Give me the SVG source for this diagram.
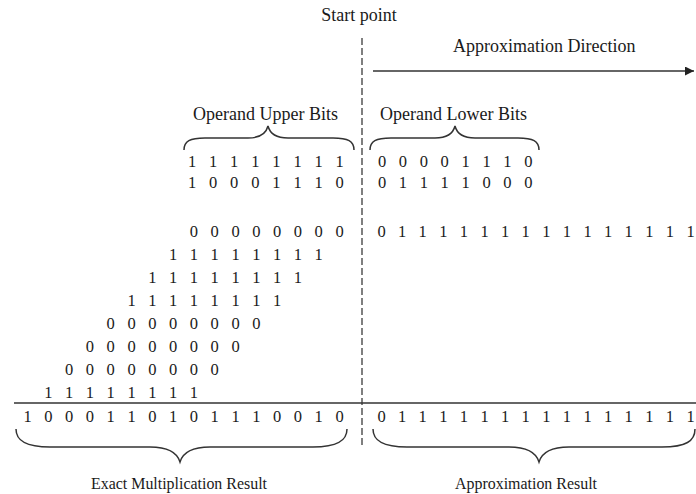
<svg xmlns="http://www.w3.org/2000/svg" width="696" height="494" viewBox="0 0 696 494">
<style>
.lbl{font-family:"Liberation Serif","Times New Roman",serif;font-size:18px;fill:#1a1a1a}
.lbl2{font-family:"Liberation Serif","Times New Roman",serif;font-size:16.5px;fill:#1a1a1a}
.bit{font-family:"Liberation Serif","Times New Roman",serif;font-size:16.5px;fill:#1a1a1a;text-anchor:middle}
.brace{fill:none;stroke:#333;stroke-width:1.5}
.ln{stroke:#333;stroke-width:1.5;fill:none}
.dash{stroke:#555;stroke-width:1.5;stroke-dasharray:7 3;fill:none}
</style>
<defs>
<marker id="ah" viewBox="0 0 10 10" refX="10" refY="5" markerWidth="11" markerHeight="9" markerUnits="userSpaceOnUse" orient="auto">
<path d="M0,0 L10,5 L0,10 Z" fill="#222"/>
</marker>
</defs>
<rect width="696" height="494" fill="#fff"/>

<g id="connectors">
<line id="start-line" class="dash" x1="362" y1="38" x2="362" y2="448"/>
<line id="direction-arrow" class="ln" x1="373" y1="71" x2="694" y2="71" marker-end="url(#ah)"/>
<line id="sum-line" class="ln" x1="14" y1="403" x2="696" y2="403"/>
</g>

<g id="start-point"><text class="lbl" x="359" y="21" text-anchor="middle">Start point</text></g>
<g id="approx-direction"><text class="lbl" x="453" y="52">Approximation Direction</text></g>

<g id="operand-upper">
<text class="lbl" x="193" y="120">Operand Upper Bits</text>
<path class="brace" d="M184,150 C184,141 190,138 205,138 L248,138 C260,138 266,134 268,126 C270,134 276,138 288,138 L333,138 C348,138 354,141 354,150"/>
<text class="bit" y="167" x="192 202.55 213.1 223.65 234.2 244.75 255.3 265.85 276.4 286.95 297.5 308.05 318.6 329.15 339.7">1 1 1 1 1 1 1 1</text>
<text class="bit" y="188" x="192 202.55 213.1 223.65 234.2 244.75 255.3 265.85 276.4 286.95 297.5 308.05 318.6 329.15 339.7">1 0 0 0 1 1 1 0</text>
</g>

<g id="operand-lower">
<text class="lbl" x="380" y="120">Operand Lower Bits</text>
<path class="brace" d="M370,150 C370,141 376,138 391,138 L435,138 C447,138 453,134 455,126 C457,134 463,138 475,138 L518,138 C533,138 539,141 539,150"/>
<text class="bit" y="167" x="382 392.45 402.9 413.35 423.8 434.25 444.7 455.15 465.6 476.05 486.5 496.95 507.4 517.85 528.3">0 0 0 0 1 1 1 0</text>
<text class="bit" y="188" x="382 392.45 402.9 413.35 423.8 434.25 444.7 455.15 465.6 476.05 486.5 496.95 507.4 517.85 528.3">0 1 1 1 1 0 0 0</text>
</g>

<g id="partial-products">
<text class="bit" y="236.5" x="193.9 204.3 214.7 225.1 235.5 245.9 256.3 266.7 277.1 287.5 297.9 308.3 318.7 329.1 339.5">0 0 0 0 0 0 0 0</text>
<text class="bit" y="259.5" x="173.1 183.5 193.9 204.3 214.7 225.1 235.5 245.9 256.3 266.7 277.1 287.5 297.9 308.3 318.7">1 1 1 1 1 1 1 1</text>
<text class="bit" y="282.5" x="152.3 162.7 173.1 183.5 193.9 204.3 214.7 225.1 235.5 245.9 256.3 266.7 277.1 287.5 297.9">1 1 1 1 1 1 1 1</text>
<text class="bit" y="305.5" x="131.5 141.9 152.3 162.7 173.1 183.5 193.9 204.3 214.7 225.1 235.5 245.9 256.3 266.7 277.1">1 1 1 1 1 1 1 1</text>
<text class="bit" y="328.5" x="110.7 121.1 131.5 141.9 152.3 162.7 173.1 183.5 193.9 204.3 214.7 225.1 235.5 245.9 256.3">0 0 0 0 0 0 0 0</text>
<text class="bit" y="351.5" x="89.9 100.3 110.7 121.1 131.5 141.9 152.3 162.7 173.1 183.5 193.9 204.3 214.7 225.1 235.5">0 0 0 0 0 0 0 0</text>
<text class="bit" y="374.5" x="69.1 79.5 89.9 100.3 110.7 121.1 131.5 141.9 152.3 162.7 173.1 183.5 193.9 204.3 214.7">0 0 0 0 0 0 0 0</text>
<text class="bit" y="397.5" x="48.3 58.7 69.1 79.5 89.9 100.3 110.7 121.1 131.5 141.9 152.3 162.7 173.1 183.5 193.9">1 1 1 1 1 1 1 1</text>
</g>

<g id="approx-partial">
<text class="bit" y="236.5" x="381.5 391.8 402.1 412.4 422.7 433 443.3 453.6 463.9 474.2 484.5 494.8 505.1 515.4 525.7 536 546.3 556.6 566.9 577.2 587.5 597.8 608.1 618.4 628.7 639 649.3 659.6 669.9 680.2 690.5">0 1 1 1 1 1 1 1 1 1 1 1 1 1 1 1</text>
</g>

<g id="exact-result">
<text class="bit" y="421.5" x="27.5 37.9 48.3 58.7 69.1 79.5 89.9 100.3 110.7 121.1 131.5 141.9 152.3 162.7 173.1 183.5 193.9 204.3 214.7 225.1 235.5 245.9 256.3 266.7 277.1 287.5 297.9 308.3 318.7 329.1 339.5">1 0 0 0 1 1 0 1 0 1 1 1 0 0 1 0</text>
<path class="brace" d="M16,429 C16,441 26,447 50,447 L150,447 C168,447 177,452 180,462 C183,452 192,447 210,447 L313,447 C337,447 347,441 347,429"/>
<text class="lbl2" x="91" y="489" textLength="176" lengthAdjust="spacingAndGlyphs">Exact Multiplication Result</text>
</g>

<g id="approx-result">
<text class="bit" y="421.5" x="381.5 391.8 402.1 412.4 422.7 433 443.3 453.6 463.9 474.2 484.5 494.8 505.1 515.4 525.7 536 546.3 556.6 566.9 577.2 587.5 597.8 608.1 618.4 628.7 639 649.3 659.6 669.9 680.2 690.5">0 1 1 1 1 1 1 1 1 1 1 1 1 1 1 1</text>
<path class="brace" d="M373,429 C373,441 383,447 407,447 L509,447 C527,447 536,452 539,462 C542,452 551,447 569,447 L662,447 C686,447 695,441 695,429"/>
<text class="lbl2" x="455" y="489" textLength="142" lengthAdjust="spacingAndGlyphs">Approximation Result</text>
</g>
</svg>
